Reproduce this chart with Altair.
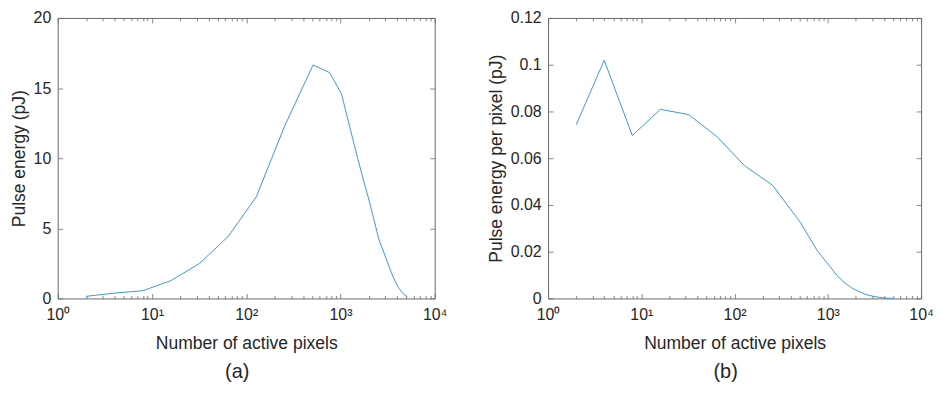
import altair as alt
import pandas as pd

# ---- data ----
pixels = [2, 4, 8, 16, 32, 64, 128, 256, 512, 768, 1024, 1280, 1536, 1792,
          2048, 2560, 3072, 3584, 4096, 4608, 5120]
pulse_energy = [0.15, 0.38, 0.55, 1.28, 2.5, 4.4, 7.25, 12.3, 16.65, 16.1,
                14.6, 12.0, 9.9, 8.2, 6.8, 4.2, 2.8, 1.6, 0.8, 0.35, 0.12]
energy_per_pixel = [0.0743, 0.1019, 0.0697, 0.0809, 0.0787, 0.0694, 0.0568,
                    0.0484, 0.0323, 0.0205, 0.0143, 0.0094, 0.0065, 0.0046,
                    0.0034, 0.0017, 0.0009, 0.00045, 0.0002, 0.0001, 0.00003]

x_major = [1, 10, 100, 1000, 10000]
x_major_labels = ["10⁰", "10¹", "10²", "10³", "10⁴"]
x_minor = [2, 3, 4, 5, 6, 7, 8, 9,
           20, 30, 40, 50, 60, 70, 80, 90,
           200, 300, 400, 500, 600, 700, 800, 900,
           2000, 3000, 4000, 5000, 6000, 7000, 8000, 9000]
y_ticks_a = [0, 5, 10, 15, 20]
y_ticks_b = [0, 0.02, 0.04, 0.06, 0.08, 0.1, 0.12]

FONT = "Liberation Sans"
TXT = "#262626"
AXC = "#6a6a6a"
LINE = "#3f97d4"

label_expr = "[" + ",".join("'%s'" % s for s in x_major_labels) + "][round(log(datum.value)/LN10)]"

df = pd.DataFrame({"pixels": pixels, "energy": pulse_energy, "per_pixel": energy_per_pixel})


def panel(ycol, ytitle, yvals, ydom, tag, width):
    xs = alt.Scale(type="log", domain=[1, 10000], nice=False)
    ys = alt.Scale(domain=ydom, nice=False, zero=False)
    base = alt.Chart(df)

    main = base.mark_line(color=LINE, strokeWidth=1).encode(
        x=alt.X("pixels:Q", scale=xs,
                axis=alt.Axis(values=x_major, labelExpr=label_expr,
                              title="Number of active pixels",
                              ticks=False, tickSize=0, domain=False, grid=False,
                              labelPadding=8, titlePadding=12,
                              labelFontSize=16, titleFontSize=17.6,
                              labelColor=TXT, titleColor=TXT,
                              labelFont=FONT, titleFont=FONT,
                              titleFontWeight="normal", labelFlush=False)),
        y=alt.Y(f"{ycol}:Q", scale=ys,
                axis=alt.Axis(values=yvals, labelExpr="'' + datum.value",
                              title=ytitle,
                              ticks=False, tickSize=0, domain=False, grid=False,
                              labelPadding=7, titlePadding=5,
                              labelFontSize=16, titleFontSize=17.6,
                              labelColor=TXT, titleColor=TXT,
                              labelFont=FONT, titleFont=FONT,
                              titleFontWeight="normal", labelFlush=False)),
    )

    def tax(orient, vals, size):
        return alt.Axis(orient=orient, values=vals, tickSize=size, offset=-size,
                        labels=False, domain=False, grid=False, title=None,
                        tickColor=AXC, tickWidth=0.8)

    def tick_layer(xaxis, yaxis):
        yenc = alt.Y(f"{ycol}:Q", scale=ys, axis=yaxis) if yaxis is not None \
            else alt.Y(f"{ycol}:Q", scale=ys, axis=None)
        return base.mark_line(opacity=0).encode(
            x=alt.X("pixels:Q", scale=xs, axis=xaxis), y=yenc)

    l2 = tick_layer(tax("bottom", x_major, 5), tax("left", yvals, 5))
    l3 = tick_layer(tax("top", x_major, 5), tax("right", yvals, 5))
    l4 = tick_layer(tax("bottom", x_minor, 3), None)
    l5 = tick_layer(tax("top", x_minor, 3), None)

    return alt.layer(main, l2, l3, l4, l5).resolve_scale(
        x="independent", y="independent"
    ).properties(
        width=width, height=282,
        title=alt.TitleParams(tag, orient="bottom", fontSize=20, font=FONT,
                              fontWeight="normal", color=TXT, offset=10,
                              anchor="middle", frame="group", dx=-9),
    )


pa = panel("energy", "Pulse energy (pJ)", y_ticks_a, [0, 20], "(a)", 379)
pb = panel("per_pixel", "Pulse energy per pixel (pJ)", y_ticks_b, [0, 0.12], "(b)", 375)

chart = alt.hconcat(pa, pb, spacing=39).configure(
    padding={"left": 1, "top": 0, "right": 0, "bottom": 0},
).configure_view(stroke=AXC, strokeWidth=1)

chart.save("out.html", embed_options={"renderer": "svg", "actions": False})
